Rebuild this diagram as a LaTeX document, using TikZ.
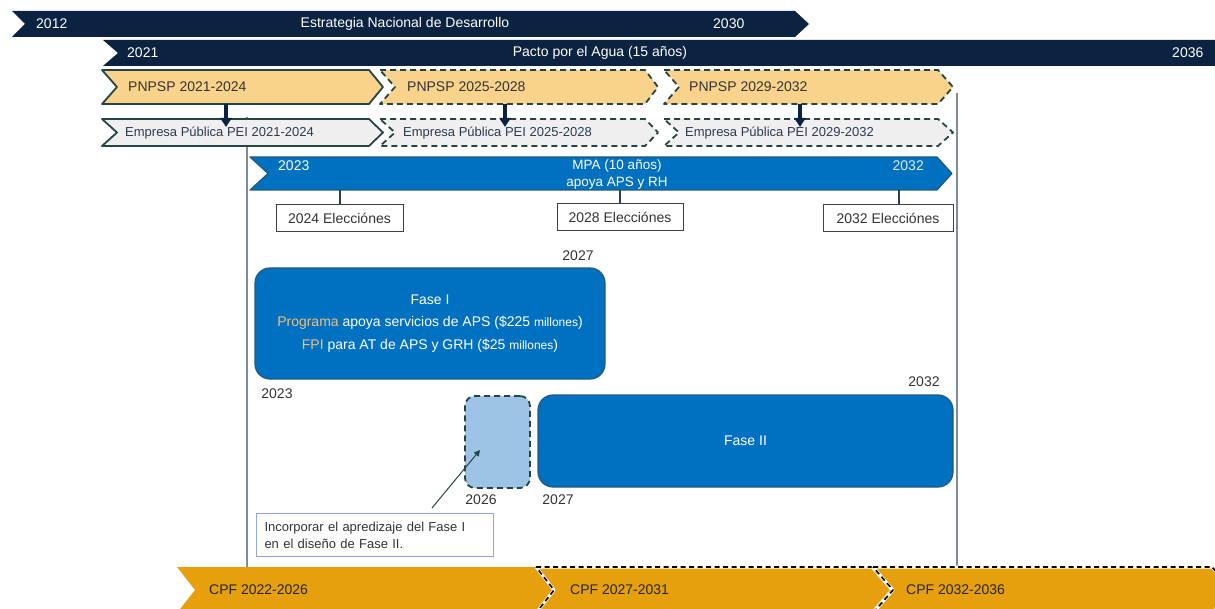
\documentclass[tikz,border=0pt]{standalone}
\usepackage{fontspec}
\setmainfont{Liberation Sans}
\usetikzlibrary{arrows.meta}
\definecolor{navy}{HTML}{0B2240}
\definecolor{peach}{HTML}{F9D38C}
\definecolor{lgray}{HTML}{EFEFF0}
\definecolor{slate}{HTML}{254545}
\definecolor{mblue}{HTML}{0070C0}
\definecolor{bborder}{HTML}{245A78}
\definecolor{lblue}{HTML}{9DC3E6}
\definecolor{cpf}{HTML}{E69F0D}
\definecolor{gold}{HTML}{EDC27E}
\definecolor{vline}{HTML}{7F8E94}
\definecolor{notec}{HTML}{8EAADB}
\definecolor{txt}{HTML}{333333}
\definecolor{etxt}{HTML}{2B3A55}
\definecolor{pale}{HTML}{DDEBF7}
\def\chevp#1#2#3#4#5#6{(#1,#2) -- ({#3-#6},#2) -- (#3,{(#2+#4)/2}) -- ({#3-#6},#4) -- (#1,#4) -- ({#1+#5},{(#2+#4)/2}) -- cycle}
\begin{document}
\begin{tikzpicture}[x=1pt,y=-1pt,
  lbl/.style={inner sep=0pt, font=\fontsize{14}{16}\selectfont},
  slbl/.style={inner sep=0pt, font=\fontsize{13}{15}\selectfont},
  pnp/.style={fill=peach, draw=slate, line width=1.8pt, line join=round},
  pnpd/.style={pnp, dash pattern=on 6pt off 4pt},
  emp/.style={fill=lgray, draw=slate, line width=1.8pt, line join=round},
  empd/.style={emp, dash pattern=on 6pt off 4pt},
  darr/.style={draw=navy, line width=3.2pt, -{Triangle[width=11pt,length=9pt]}},
  tick/.style={draw=slate, line width=1.8pt},
  elbox/.style={draw=black!75, line width=1pt, fill=white, inner sep=0pt, minimum height=27pt, font=\fontsize{14}{16}\selectfont, text=txt},
  fase/.style={fill=mblue, draw=bborder, line width=1.2pt, rounded corners=15pt, inner sep=0pt, text=white, align=center, font=\fontsize{14}{22.5}\selectfont},
  cpfd/.style={fill=cpf, draw=white, line width=3pt, line join=round},
  cpfdash/.style={draw=black, line width=1.6pt, dash pattern=on 5pt off 3.5pt, line join=round}
]
\useasboundingbox (0,0) rectangle (1215,609);
\clip (0,0) rectangle (1215,609);

% vertical guide lines
\coordinate (vl1) at (247,117);
\coordinate (vl2) at (247,567);
\coordinate (vr1) at (957,93);
\coordinate (vr2) at (957,567);
\draw[vline, line width=1.3pt] (vl1) -- (vl2);
\draw[vline, line width=1.3pt] (vr1) -- (vr2);

% Estrategia
\fill[navy] \chevp{12}{11}{809}{37}{13}{14};
\node[lbl, text=white, anchor=west] (e2012) at (36,24) {2012};
\node[lbl, text=white] (estr) at (405,24) {Estrategia Nacional de Desarrollo};
\node[lbl, text=white, anchor=west] (e2030) at (713,24) {2030};

% Pacto
\fill[navy] (103,40) -- (1215,40) -- (1215,66) -- (103,66) -- (118,53) -- cycle;
\node[lbl, text=white, anchor=west] (p2021) at (127,53) {2021};
\node[lbl, text=white] (pacto) at (600,53) {Pacto por el Agua (15 años)};
\node[lbl, text=white, anchor=west] (p2036) at (1172,53) {2036};

% PNPSP
\path[pnp] \chevp{102}{70}{383}{104}{15}{14};
\path[pnpd] \chevp{380}{70}{658}{104}{15}{13};
\path[pnpd] \chevp{664}{70}{953}{104}{15}{15};
\node[lbl, text=txt, anchor=west] (pn1) at (128,87) {PNPSP 2021-2024};
\node[lbl, text=txt, anchor=west] (pn2) at (407,87) {PNPSP 2025-2028};
\node[lbl, text=txt, anchor=west] (pn3) at (689,87) {PNPSP 2029-2032};

% Empresa
\path[emp] \chevp{102}{119}{383}{146}{15}{14};
\path[empd] \chevp{380}{119}{658}{146}{15}{13};
\path[empd] \chevp{664}{119}{953}{146}{15}{15};
\node[slbl, text=etxt, anchor=west] (em1) at (125,133) {Empresa Pública PEI 2021-2024};
\node[slbl, text=etxt, anchor=west] (em2) at (403,133) {Empresa Pública PEI 2025-2028};
\node[slbl, text=etxt, anchor=west] (em3) at (685,133) {Empresa Pública PEI 2029-2032};

% arrows PNPSP -> Empresa
\coordinate (pa1) at (226,104); \coordinate (ea1) at (226,127);
\coordinate (pa2) at (505,104); \coordinate (ea2) at (505,127);
\coordinate (pa3) at (800,104); \coordinate (ea3) at (800,127);
\draw[darr] (pa1) -- (ea1);
\draw[darr] (pa2) -- (ea2);
\draw[darr] (pa3) -- (ea3);

% MPA
\path[fill=mblue, draw=bborder, line width=1.2pt, line join=round] \chevp{250}{157}{952}{190}{18}{15};
\node[lbl, text=white, anchor=west] (m2023) at (278,166) {2023};
\node[inner sep=0pt, text=white, align=center, font=\fontsize{13.5}{17}\selectfont] (mpa) at (617,175) {MPA (10 años)\\apoya APS y RH};
\node[lbl, text=pale, anchor=east] (m2032) at (924,166) {2032};

% elections
\coordinate (mt1) at (340,190);
\coordinate (mt2) at (620,190);
\coordinate (mt3) at (899,190);
\node[elbox, minimum width=127pt] (el1) at (339.5,218.5) {2024 Elecciónes};
\node[elbox, minimum width=126pt] (el2) at (620,217.5) {2028 Elecciónes};
\node[elbox, minimum width=130pt] (el3) at (888,218.5) {2032 Elecciónes};
\draw[tick] (mt1) -- (mt1 |- el1.north);
\draw[tick] (mt2) -- (mt2 |- el2.north);
\draw[tick] (mt3) -- (mt3 |- el3.north);

% Fase I
\node[lbl, text=txt] (y2027a) at (578,256) {2027};
\node[fase, minimum width=350pt, minimum height=111pt] (f1) at (430,323.5)
  {Fase I\\\textcolor{gold}{Programa} apoya servicios de APS (\$225 {\fontsize{12}{13}\selectfont millones})\\\textcolor{gold}{FPI} para AT de APS y GRH (\$25 {\fontsize{12}{13}\selectfont millones})};
\node[lbl, text=txt] (y2023b) at (277,394) {2023};

% transition box and Fase II
\node[fill=lblue, draw=slate, line width=1.8pt, dash pattern=on 6pt off 4pt, rounded corners=10pt, minimum width=65pt, minimum height=92pt, inner sep=0pt] (trans) at (497.5,442) {};
\node[fase, minimum width=415pt, minimum height=92pt, font=\fontsize{14}{16}\selectfont] (f2) at (745.5,441) {Fase II};
\node[lbl, text=txt] (y2032b) at (924,382) {2032};
\node[lbl, text=txt] (y2026) at (481,500) {2026};
\node[lbl, text=txt] (y2027b) at (558,500) {2027};

% note
\node[draw=notec, line width=1pt, fill=white, anchor=north west, text width=221pt, inner xsep=8pt, minimum height=43pt, align=left, text=txt, font=\fontsize{13}{17}\selectfont] (note) at (256,513) {Incorporar el apredizaje del Fase I\\en el diseño de Fase II.};
\coordinate (ns) at (432,508);
\coordinate (tb) at (480,450);
\draw[draw=slate, line width=1pt, -{Triangle[width=6pt,length=6pt]}] (ns) -- (tb);

% CPF
\fill[cpf] \chevp{177}{567}{555}{613}{18}{20};
\path[cpfd] \chevp{536}{567}{892}{613}{18}{20};
\draw[cpfdash] \chevp{536}{567}{892}{613}{18}{20};
\path[cpfd] \chevp{873}{567}{1232}{613}{20}{20};
\draw[cpfdash] \chevp{873}{567}{1232}{613}{20}{20};
\node[lbl, text=black!85, anchor=west] (c1) at (209,590) {CPF 2022-2026};
\node[lbl, text=black!85, anchor=west] (c2) at (570,590) {CPF 2027-2031};
\node[lbl, text=black!85, anchor=west] (c3) at (906,590) {CPF 2032-2036};
\end{tikzpicture}
\end{document}
